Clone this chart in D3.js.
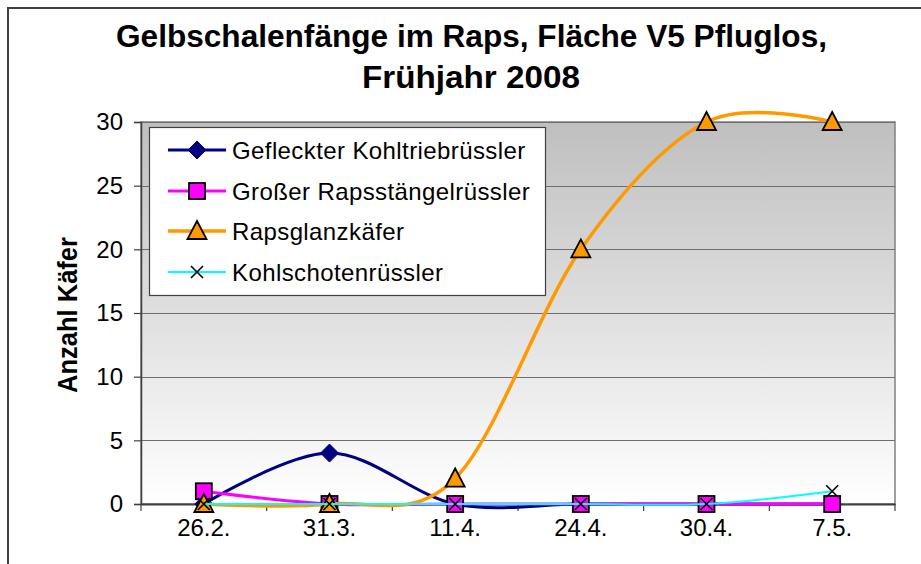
<!DOCTYPE html>
<html>
<head>
<meta charset="utf-8">
<script src="https://cdn.jsdelivr.net/npm/d3@7"></script>
<style>
  html, body { margin: 0; padding: 0; background: #ffffff; }
  svg { display: block; font-family: "Liberation Sans", Arial, sans-serif; }
</style>
</head>
<body>
<svg id="chart" width="921" height="564"></svg>
<script>
// ---- data ----
const categories = ["26.2.", "31.3.", "11.4.", "24.4.", "30.4.", "7.5."];
const seriesNames = ["Gefleckter Kohltriebrüssler", "Großer Rapsstängelrüssler", "Rapsglanzkäfer", "Kohlschotenrüssler"];
const kohltriebruessler = [0, 4, 0, 0, 0, 0];
const rapsstaengelruessler = [1, 0, 0, 0, 0, 0];
const rapsglanzkaefer = [0, 0, 2, 20, 30, 30];
const kohlschotenruessler = [0, 0, 0, 0, 0, 1];
const yTicks = [0, 5, 10, 15, 20, 25, 30];
const titleLines = ["Gelbschalenfänge im Raps, Fläche V5 Pfluglos,", "Frühjahr 2008"];
const yTitle = "Anzahl Käfer";

const seriesStyles = [
  { color: "#000080", width: 3, marker: "diamond" },
  { color: "#FF00FF", width: 3, marker: "square" },
  { color: "#FF9900", width: 3.5, marker: "triangle" },
  { color: "#00FFFF", width: 2, marker: "cross" }
];
const seriesValues = [kohltriebruessler, rapsstaengelruessler, rapsglanzkaefer, kohlschotenruessler];

const svg = d3.select("#chart");
const plot = { left: 141, right: 895, top: 122, bottom: 504 };

const x = d3.scaleBand().domain(categories).range([plot.left, plot.right]);
const y = d3.scaleLinear().domain([0, 30]).range([plot.bottom, plot.top]);
const cx = c => x(c) + x.bandwidth() / 2;

// outer border
svg.append("rect").attr("x", 8).attr("y", 8).attr("width", 940).attr("height", 600)
  .attr("fill", "none").attr("stroke", "#404040").attr("stroke-width", 2);

// gradient
const defs = svg.append("defs");
const grad = defs.append("linearGradient").attr("id", "bg").attr("x1", 0).attr("y1", 0).attr("x2", 0).attr("y2", 1);
grad.append("stop").attr("offset", "0%").attr("stop-color", "#bfbfbf");
grad.append("stop").attr("offset", "100%").attr("stop-color", "#ffffff");

svg.append("rect").attr("x", plot.left).attr("y", plot.top)
  .attr("width", plot.right - plot.left).attr("height", plot.bottom - plot.top)
  .attr("fill", "url(#bg)").attr("stroke", "#808080").attr("stroke-width", 1.5);

// gridlines
svg.append("g").selectAll("line").data(yTicks.filter(t => t > 0)).join("line")
  .attr("x1", plot.left).attr("x2", plot.right)
  .attr("y1", d => Math.round(y(d)) + 0.5).attr("y2", d => Math.round(y(d)) + 0.5)
  .attr("stroke", "#6e6e6e").attr("stroke-width", 1);

// y axis
const yAxis = d3.axisLeft(y).tickValues(yTicks).tickSize(7).tickPadding(11).tickFormat(d3.format("d"));
const gy = svg.append("g").attr("transform", `translate(${plot.left},0)`).call(yAxis);
gy.select(".domain").attr("stroke", "#404040").attr("stroke-width", 1.5);
gy.selectAll(".tick line").attr("stroke", "#404040").attr("stroke-width", 1.2);
gy.selectAll(".tick text").attr("font-size", 24).attr("fill", "#000")
  .attr("font-family", "'Liberation Sans', Arial, sans-serif");

// x axis
const xAxis = d3.axisBottom(x).tickSize(0).tickPadding(15);
const gx = svg.append("g").attr("transform", `translate(0,${plot.bottom})`).call(xAxis);
gx.select(".domain").attr("stroke", "#404040").attr("stroke-width", 2);
gx.selectAll(".tick text").attr("font-size", 24).attr("fill", "#000")
  .attr("font-family", "'Liberation Sans', Arial, sans-serif");
// category boundary ticks
const bounds = categories.map(c => x(c)).concat([plot.right]);
gx.append("g").selectAll("line").data(bounds).join("line")
  .attr("x1", d => d).attr("x2", d => d).attr("y1", 0).attr("y2", 7)
  .attr("stroke", "#404040").attr("stroke-width", 1.2);

// marker drawing
function drawMarker(g, type, color) {
  if (type === "diamond") {
    g.append("path").attr("d", "M0,-9L9,0L0,9L-9,0Z").attr("fill", color).attr("stroke", color).attr("stroke-width", 1);
  } else if (type === "square") {
    g.append("rect").attr("x", -8).attr("y", -8).attr("width", 16).attr("height", 16)
      .attr("fill", color).attr("stroke", "#000").attr("stroke-width", 1.8);
  } else if (type === "triangle") {
    g.append("path").attr("d", "M0,-10L9.5,8L-9.5,8Z").attr("fill", color).attr("stroke", "#000").attr("stroke-width", 1.8);
  } else if (type === "cross") {
    g.append("path").attr("d", "M-6,-6L6,6M-6,6L6,-6").attr("fill", "none").attr("stroke", "#000").attr("stroke-width", 1.6);
  }
}

const line = d3.line().x((d, i) => cx(categories[i])).y(d => y(d)).curve(d3.curveCatmullRom.alpha(0));

seriesValues.forEach((vals, si) => {
  const st = seriesStyles[si];
  const g = svg.append("g");
  g.append("path").datum(vals).attr("d", line).attr("fill", "none")
    .attr("stroke", st.color).attr("stroke-width", st.width).attr("stroke-linejoin", "round");
  vals.forEach((v, i) => {
    const mg = g.append("g").attr("transform", `translate(${cx(categories[i])},${y(v)})`);
    drawMarker(mg, st.marker, st.color);
  });
});

// legend
const legend = svg.append("g");
legend.append("rect").attr("x", 149.5).attr("y", 127.5).attr("width", 396).attr("height", 168)
  .attr("fill", "#ffffff").attr("stroke", "#404040").attr("stroke-width", 1.2);
const rowY = [150, 191, 231, 272];
seriesNames.forEach((name, i) => {
  const st = seriesStyles[i];
  const r = legend.append("g").attr("transform", `translate(0,${rowY[i]})`);
  r.append("line").attr("x1", 168).attr("x2", 226).attr("y1", 0).attr("y2", 0)
    .attr("stroke", st.color).attr("stroke-width", st.width);
  const mg = r.append("g").attr("transform", "translate(197,0)");
  drawMarker(mg, st.marker, st.color);
  r.append("text").attr("x", 232).attr("y", 8.5).attr("font-size", 24)
    .attr("letter-spacing", 0.4).attr("fill", "#000").text(name);
});

// title
svg.append("text").attr("x", 471.5).attr("y", 47).attr("text-anchor", "middle")
  .attr("font-size", 31).attr("font-weight", "bold").attr("fill", "#000")
  .attr("textLength", 711).attr("lengthAdjust", "spacingAndGlyphs").text(titleLines[0]);
svg.append("text").attr("x", 471).attr("y", 88).attr("text-anchor", "middle")
  .attr("font-size", 31).attr("font-weight", "bold").attr("fill", "#000")
  .attr("textLength", 218).attr("lengthAdjust", "spacingAndGlyphs").text(titleLines[1]);

// y title
svg.append("text").attr("transform", "translate(77,315) rotate(-90)").attr("text-anchor", "middle")
  .attr("font-size", 27).attr("font-weight", "bold").attr("fill", "#000")
  .attr("textLength", 156).attr("lengthAdjust", "spacingAndGlyphs").text(yTitle);
</script>
</body>
</html>
